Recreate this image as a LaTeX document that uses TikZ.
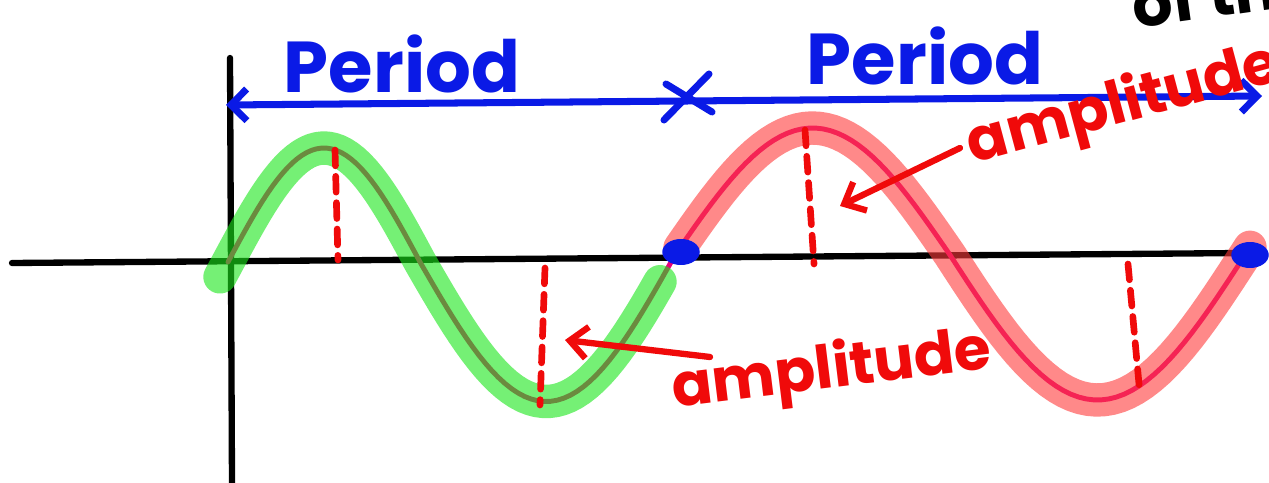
\documentclass[tikz,border=0pt]{standalone}
\usepackage{fontspec}
\setmainfont{Poppins}
\usetikzlibrary{arrows.meta, shapes.geometric}
\definecolor{penblue}{HTML}{0A1AE6}
\definecolor{penred}{HTML}{F00A0A}
\definecolor{curvepink}{HTML}{E6007A}
\definecolor{hlgreen}{HTML}{19E619}
\definecolor{hlred}{HTML}{FF3B3B}

\begin{document}
\begin{tikzpicture}[
    x=0.02cm, y=-0.02cm,
    line cap=round, line join=round,
    axis/.style={
        draw=black, line width=3.6pt,
    },
    curveline/.style={
        draw=curvepink, line width=2.8pt,
    },
    greenmark/.style={
        draw=hlgreen, line width=19pt, opacity=0.6,
    },
    redmark/.style={
        draw=hlred, line width=19pt, opacity=0.6,
    },
    periodarrow/.style={
        {Straight Barb[length=9pt, width=18pt]}-{Straight Barb[length=9pt, width=18pt]},
        draw=penblue, line width=4pt,
    },
    ampline/.style={
        draw=penred, line width=3.8pt, dash pattern=on 9pt off 6pt,
    },
    amparrow/.style={
        -{Straight Barb[length=10pt, width=18pt]},
        draw=penred, line width=3.6pt,
    },
    periodtext/.style={
        text=penblue, font=\fontsize{41}{44}\selectfont\bfseries, inner sep=0pt,
    },
    amptext/.style={
        text=penred, font=\fontsize{34}{38}\selectfont\bfseries, inner sep=0pt,
    },
    zerodot/.style={
        fill=penblue, ellipse, minimum width=0.75cm, minimum height=0.52cm, inner sep=0pt,
    },
]
\useasboundingbox (0,0) rectangle (1269,483);

% Axes
\draw[axis] (12,263) -- (1245,253);
\draw[axis] (230,58) -- (232,483);

% Sine curve, first period (green) and second period (red)
\draw[curveline] plot[domain=228:420, samples=40] (\x, {262-114*sin((\x-228)/192*180)})
    -- plot[domain=420:675, samples=40] (\x, {262-7*(\x-420)/255+143*sin((\x-420)/255*180)});
\draw[curveline] plot[domain=675:950, samples=40] (\x, {255-127*sin((\x-675)/275*180)})
    -- plot[domain=950:1245, samples=40] (\x, {255+145*sin((\x-950)/295*180)});
\draw[greenmark] plot[domain=220:420, samples=40] (\x, {262-114*sin((\x-228)/192*180)})
    -- plot[domain=420:660, samples=40] (\x, {262-7*(\x-420)/255+143*sin((\x-420)/255*180)});
\draw[redmark] plot[domain=680:950, samples=40] (\x, {255-127*sin((\x-675)/275*180)})
    -- plot[domain=950:1250, samples=40] (\x, {255+145*sin((\x-950)/295*180)});

% Zero crossings
\node[zerodot] (cross1) at (681,252) {};
\node[zerodot] (cross2) at (1250,255) {};

% Amplitude marks
\coordinate (peak1) at (335,150);
\coordinate (base1) at (338,260);
\coordinate (base2) at (545,268);
\coordinate (trough1) at (540,405);
\coordinate (peak2) at (805,130);
\coordinate (base3) at (814,264);
\coordinate (base4) at (1128,264);
\coordinate (trough2) at (1140,395);
\draw[ampline] (peak1) -- (base1);
\draw[ampline] (base2) -- (trough1);
\draw[ampline] (peak2) -- (base3);
\draw[ampline] (base4) -- (trough2);

% Period arrow
\coordinate (pstart) at (226,105);
\coordinate (pend) at (1262,96);
\draw[periodarrow] (pstart) -- (pend);
\coordinate (xa) at (666,84);
\coordinate (xb) at (712,112);
\coordinate (xc) at (709,74);
\coordinate (xd) at (664,120);
\draw[draw=penblue, line width=4pt] (xa) -- (xb) (xc) -- (xd);

\node[periodtext] (period1) at (402,64) {Period};
\node[periodtext] (period2) at (925,56) {Period};

% Labels
\node[amptext, rotate=15] (amp1) at (1124,106) {amplitude};
\node[amptext, rotate=7] (amp2) at (832,372) {amplitude};
\coordinate (amp1tail) at (960,148);
\coordinate (amp1head) at (840,206);
\coordinate (amp2tail) at (710,357);
\coordinate (amp2head) at (565,340);
\draw[amparrow] (amp1tail) -- (amp1head);
\draw[amparrow] (amp2tail) -- (amp2head);

\node[font=\fontsize{36}{40}\selectfont\bfseries, anchor=west, rotate=8, inner sep=0pt] (oftext) at (1132,4) {of th};
\end{tikzpicture}
\end{document}
